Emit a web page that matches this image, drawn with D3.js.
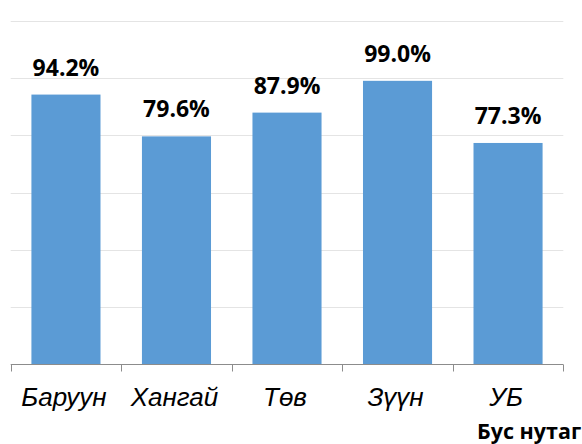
<!DOCTYPE html>
<html>
<head>
<meta charset="utf-8">
<script src="https://cdn.jsdelivr.net/npm/d3@7"></script>
<style>
  body { margin: 0; background: #fff; }
  svg { display: block; }
</style>
</head>
<body>
<div id="chart"></div>
<script>
// data
const regions = ["Баруун", "Хангай", "Төв", "Зүүн", "УБ"];
const shares = [94.2, 79.6, 87.9, 99.0, 77.3];
const gridTicks = [0, 20, 40, 60, 80, 100, 120];
const axisTitle = "Бус нутаг";

const width = 582, height = 444;
const margin = { top: 20.7, right: 18.7, bottom: 79.7, left: 10.7 };

const svg = d3.select("#chart").append("svg")
  .attr("width", width)
  .attr("height", height);

const x = d3.scaleBand()
  .domain(regions)
  .range([margin.left, width - margin.right])
  .paddingInner(0.375)
  .paddingOuter(0.1875);

const y = d3.scaleLinear()
  .domain([0, 120])
  .range([height - margin.bottom, margin.top]);

// gridlines
svg.append("g")
  .selectAll("line")
  .data(gridTicks.slice(1))
  .enter().append("line")
  .attr("x1", margin.left)
  .attr("x2", width - margin.right)
  .attr("y1", d => Math.round(y(d)) + 0.5)
  .attr("y2", d => Math.round(y(d)) + 0.5)
  .style("stroke", "#e4e4e4")
  .style("stroke-width", 1);

// bars
svg.append("g")
  .selectAll("rect")
  .data(regions)
  .enter().append("rect")
  .attr("x", d => x(d))
  .attr("width", x.bandwidth())
  .attr("y", (d, i) => y(shares[i]))
  .attr("height", (d, i) => y(0) - y(shares[i]))
  .attr("fill", "#5b9bd5");

// x axis, ticks between categories
const base = Math.round(y(0)) + 0.5;
const step = x.step();
const edges = d3.range(regions.length + 1).map(i => margin.left + i * step);

svg.append("line")
  .attr("x1", margin.left).attr("x2", width - margin.right)
  .attr("y1", base).attr("y2", base)
  .style("stroke", "#8c8c8c");

svg.append("g")
  .selectAll("line")
  .data(edges)
  .enter().append("line")
  .attr("x1", d => Math.round(d) + 0.5)
  .attr("x2", d => Math.round(d) + 0.5)
  .attr("y1", base)
  .attr("y2", base + 7)
  .style("stroke", "#8c8c8c");

// category labels
svg.append("g")
  .selectAll("text")
  .data(regions)
  .enter().append("text")
  .attr("x", d => x(d) + x.bandwidth() / 2 - 2)
  .attr("y", 406)
  .attr("text-anchor", "middle")
  .style("font-family", "'Liberation Sans', Arial, sans-serif")
  .style("font-style", "italic")
  .style("font-size", "26px")
  .style("fill", "#000")
  .text(d => d);

// value labels
svg.append("g")
  .selectAll("text")
  .data(regions)
  .enter().append("text")
  .attr("x", d => x(d) + x.bandwidth() / 2)
  .attr("y", (d, i) => y(shares[i]) - 19)
  .attr("text-anchor", "middle")
  .style("font-family", "'Open Sans', 'Noto Sans', sans-serif")
  .style("font-weight", "bold")
  .style("font-size", "23px")
  .style("fill", "#000")
  .text((d, i) => shares[i].toFixed(1) + "%");

// axis title in the bottom-right corner
svg.append("text")
  .attr("x", 477)
  .attr("y", 439)
  .style("font-family", "'Open Sans', 'Noto Sans', sans-serif")
  .style("font-weight", "bold")
  .style("font-size", "21.5px")
  .style("fill", "#000")
  .text(axisTitle);
</script>
</body>
</html>
